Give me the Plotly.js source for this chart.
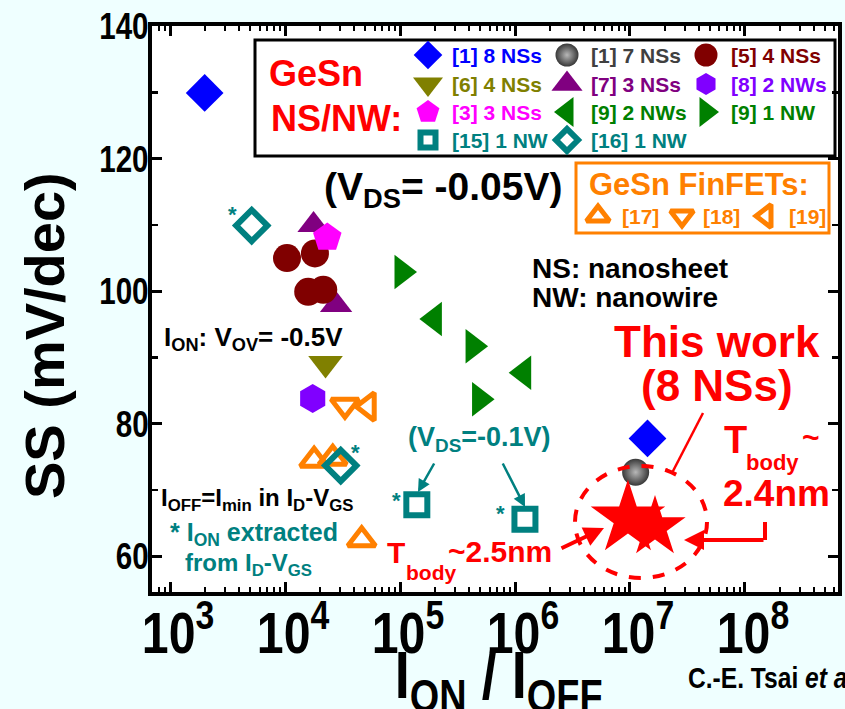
<!DOCTYPE html>
<html><head><meta charset="utf-8">
<script src="https://cdn.plot.ly/plotly-3.0.1.min.js"></script>
<style>html,body{margin:0;padding:0;background:#EFFFFF;overflow:hidden}</style>
</head><body><div id="chart" style="width:845px;height:709px"></div>
<script>
// ---- data (I_ON/I_OFF, SS in mV/dec) ----
const ref1_8NS_x = [2.0e3, 1.42e7];          const ref1_8NS_y = [129.9, 77.8];
const ref1_7NS_x = [1.12e7];                 const ref1_7NS_y = [72.7];
const ref5_x = [1.04e4, 1.82e4, 1.59e4, 2.15e4]; const ref5_y = [105.0, 105.7, 99.9, 100.2];
const ref6_x = [2.25e4];                     const ref6_y = [89.1];
const ref7_x = [1.77e4, 2.78e4];             const ref7_y = [110.0, 97.9];
const ref8_x = [1.74e4];                     const ref8_y = [83.8];
const ref3_x = [2.33e4];                     const ref3_y = [108.1];
const ref9_2NW_x = [1.99e5, 1.19e6];         const ref9_2NW_y = [95.8, 87.7];
const ref9_1NW_x = [1.04e5, 4.32e5, 4.92e5]; const ref9_1NW_y = [102.9, 91.7, 83.7];
const ref15_x = [1.40e5, 1.22e6];            const ref15_y = [67.8, 65.6];
const ref16_x = [5.13e3, 3.05e4];            const ref16_y = [109.9, 73.7];
const ref17_x = [1.79e4, 2.6e4, 4.64e4];     const ref17_y = [74.5, 74.8, 62.5];
const ref18_x = [3.32e4];                    const ref18_y = [82.8];
const ref19_x = [5.29e4];                    const ref19_y = [82.6];
const thisWork_x = [9.6e6, 1.65e7];          const thisWork_y = [65.7, 64.4];

const nsnwNames = ['[1] 8 NSs','[1] 7 NSs','[5] 4 NSs','[6] 4 NSs','[7] 3 NSs','[8] 2 NWs','[3] 3 NSs','[9] 2 NWs','[9] 1 NW','[15] 1 NW','[16] 1 NW'];
const finfetNames = ['[17]','[18]','[19]'];

// ---- styles ----
const SANS = '"Liberation Sans", Arial, sans-serif';
const RED = '#FF0000', TEAL = '#008080', ORANGE = '#FF8000', GREEN = '#008000';

const series = {
  '[1] 8 NSs': {x: ref1_8NS_x, y: ref1_8NS_y, symbol: 'diamond', color: '#0000FF', size: 29, lsize: 22},
  '[1] 7 NSs': {x: ref1_7NS_x, y: ref1_7NS_y, symbol: 'circle', color: '#383838', size: 27, lsize: 23, grad: '#b8b8b8', tcolor: '#404040'},
  '[5] 4 NSs': {x: ref5_x, y: ref5_y, symbol: 'circle', color: '#800000', size: 28, lsize: 23},
  '[6] 4 NSs': {x: ref6_x, y: ref6_y, symbol: 'triangle-down', color: '#808000', size: 30, lsize: 26},
  '[7] 3 NSs': {x: ref7_x, y: ref7_y, symbol: 'triangle-up', color: '#800080', size: 28, lsize: 27},
  '[8] 2 NWs': {x: ref8_x, y: ref8_y, symbol: 'hexagon', color: '#8000FF', size: 29, lsize: 22},
  '[3] 3 NSs': {x: ref3_x, y: ref3_y, symbol: 'pentagon', color: '#FF00FF', size: 30, lsize: 24},
  '[9] 2 NWs': {x: ref9_2NW_x, y: ref9_2NW_y, symbol: 'triangle-left', color: GREEN, size: 30, lsize: 26},
  '[9] 1 NW':  {x: ref9_1NW_x, y: ref9_1NW_y, symbol: 'triangle-right', color: GREEN, size: 30, lsize: 26},
  '[15] 1 NW': {x: ref15_x, y: ref15_y, symbol: 'square-open', color: TEAL, size: 21, lsize: 15, lw: 6},
  '[16] 1 NW': {x: ref16_x, y: ref16_y, symbol: 'diamond-open', color: TEAL, size: 24, lsize: 17, lw: 6},
  '[17]': {x: ref17_x, y: ref17_y, symbol: 'triangle-up-open', color: ORANGE, size: 24, lsize: 20, lw: 5},
  '[18]': {x: ref18_x, y: ref18_y, symbol: 'triangle-down-open', color: ORANGE, size: 24, lsize: 20, lw: 5},
  '[19]': {x: ref19_x, y: ref19_y, symbol: 'triangle-left-open', color: ORANGE, size: 24, lsize: 20, lw: 5},
  'This work': {x: thisWork_x, y: thisWork_y, symbol: 'star', color: RED, size: [56, 46]}
};
const drawOrder = ['[1] 8 NSs','[1] 7 NSs','[7] 3 NSs','[5] 4 NSs','[3] 3 NSs','[6] 4 NSs','[8] 2 NWs',
  '[9] 2 NWs','[9] 1 NW','[15] 1 NW','[17]','[18]','[19]','[16] 1 NW','This work'];

function markerOf(s, size) {
  const m = {symbol: s.symbol, color: s.color, size: size, opacity: 1, line: {width: s.lw || 0, color: s.color}};
  if (s.grad) m.gradient = {type: 'radial', color: s.grad};
  return m;
}

const traces = drawOrder.map(n => {
  const s = series[n];
  return {type: 'scatter', mode: 'markers', name: n, x: s.x, y: s.y, xaxis: 'x', yaxis: 'y', opacity: 1,
    cliponaxis: false, showlegend: false, hoverinfo: 'x+y+name', marker: markerOf(s, s.size)};
});

// ---- hand-made legends (overlay axes in pixel units of the frame) ----
const legColX = [428, 567, 706], legTextX = [450, 589, 729], legRowY = [55, 84, 112, 140];
const annotations = [];
const squeezeList = [];
function txt(text, x, y, size, color, o) {
  o = o || {};
  const paper = o.paper;
  annotations.push({text: text,
    x: paper ? (x - 152) / 686 : x, y: paper ? (592 - y) / 566 : y,
    xref: paper ? 'paper' : 'x2', yref: paper ? 'paper' : 'y2', showarrow: false,
    xanchor: o.xanchor || 'left', yanchor: 'middle', textangle: o.angle || 0,
    font: {family: SANS, size: size, color: color, weight: 'bold', style: 'normal'}});
  if (o.squeeze) squeezeList.push({i: annotations.length - 1, mode: o.squeeze});
}
nsnwNames.forEach((n, i) => {
  const s = series[n], c = i % 3, r = Math.floor(i / 3);
  traces.push({type: 'scatter', mode: 'markers', x: [legColX[c]], y: [legRowY[r]], xaxis: 'x2', yaxis: 'y2',
    showlegend: false, hoverinfo: 'skip', cliponaxis: false, marker: markerOf(s, s.lsize)});
  txt(n, legTextX[c], legRowY[r], 21, s.tcolor || s.color);
});
const finColX = [598, 682, 766], finTextX = [620, 701, 787], finRowY = 216;
finfetNames.forEach((n, i) => {
  const s = series[n];
  traces.push({type: 'scatter', mode: 'markers', x: [finColX[i]], y: [finRowY], xaxis: 'x2', yaxis: 'y2',
    showlegend: false, hoverinfo: 'skip', cliponaxis: false, marker: markerOf(s, s.lsize)});
  txt(n, finTextX[i], finRowY, 21, ORANGE);
});

// ---- text ----
txt('GeSn', 316, 73, 36, RED, {xanchor: 'center'});
txt('NS/NW:', 336, 118, 36, RED, {xanchor: 'center'});
txt('GeSn FinFETs:', 587, 184, 31, ORANGE);
txt('(V<sub>DS</sub>= -0.05V)', 443, 189, 39, '#000', {xanchor: 'center'});
txt('NS: nanosheet', 530, 268, 28, '#000');
txt('NW: nanowire', 530, 297, 28, '#000');
txt('I<sub>ON</sub>: V<sub>OV</sub>= -0.5V', 162, 338, 26, '#000');
txt('I<sub>OFF</sub>=I<sub>min</sub> in I<sub>D</sub>-V<sub>GS</sub>', 159, 499, 24, '#000');
txt('* I<sub>ON</sub> extracted', 168, 534, 25, TEAL);
txt('from I<sub>D</sub>-V<sub>GS</sub>', 183, 564, 24, TEAL);
txt('(V<sub>DS</sub>=-0.1V)', 479, 439, 27, TEAL, {xanchor: 'center'});
txt('*', 232, 214, 22, TEAL, {xanchor: 'center'});
txt('*', 355, 452, 22, TEAL, {xanchor: 'center'});
txt('*', 396, 500, 22, TEAL, {xanchor: 'center'});
txt('*', 500, 513, 22, TEAL, {xanchor: 'center'});
txt('This work', 717, 341, 44, RED, {xanchor: 'center'});
txt('(8 NSs)', 717, 385, 44, RED, {xanchor: 'center'});
txt('T', 722, 440, 38, RED);
txt('body', 744, 462, 22, RED);
txt('~', 800, 437, 30, RED);
txt('2.4nm', 721, 493, 37, RED);
txt('T', 385, 552, 30, RED);
txt('body', 404, 572, 21, RED);
txt('~2.5nm', 446, 551, 30, RED);
txt('C.-E. Tsai <i>et al.</i>', 686, 677, 30, '#000', {paper: true, squeeze: 'left'});
txt('SS (mV/dec)', 44, 335, 56, '#000', {xanchor: 'center', angle: -90, paper: true});
txt('I<sub>ON</sub> / I<sub>OFF</sub>', 498, 680, 66, '#000', {xanchor: 'center', paper: true, squeeze: 'middle'});

function arrow(x0, y0, x1, y1, color, w) {
  annotations.push({text: '', x: x1, y: y1, ax: x0, ay: y0, xref: 'x2', yref: 'y2', axref: 'x2', ayref: 'y2',
    showarrow: true, arrowhead: 2, arrowsize: 1, arrowwidth: w, arrowcolor: color});
}
arrow(435, 462, 418, 492, TEAL, 2.5);
arrow(502, 462, 525, 507, TEAL, 2.5);
arrow(560, 549, 604, 528, RED, 4);
arrow(765, 540, 684, 540, RED, 4);

const shapes = [
  {type: 'rect', xref: 'x2', yref: 'y2', x0: 255, x1: 835, y0: 40, y1: 156, line: {color: '#000', width: 3}, fillcolor: '#fff', layer: 'below'},
  {type: 'rect', xref: 'x2', yref: 'y2', x0: 576, x1: 829, y0: 163, y1: 233, line: {color: ORANGE, width: 3}, fillcolor: '#fff', layer: 'below'},
  {type: 'circle', xref: 'x2', yref: 'y2', x0: 575, x1: 707, y0: 466, y1: 578, line: {color: RED, width: 4, dash: 'dash'}, fillcolor: 'rgba(0,0,0,0)', opacity: 1, layer: 'above'},
  {type: 'line', xref: 'x2', yref: 'y2', x0: 765, x1: 765, y0: 522, y1: 540, line: {color: RED, width: 4}},
  {type: 'line', xref: 'x2', yref: 'y2', x0: 703, x1: 672, y0: 413, y1: 473, line: {color: RED, width: 2.5}},
  {type: 'line', xref: 'x2', yref: 'y2', x0: 666, x1: 672, y0: 469, y1: 473, line: {color: RED, width: 2.5}}
];

const layout = {
  width: 845, height: 709,
  margin: {l: 152, r: 7, t: 26, b: 117},
  paper_bgcolor: '#EFFFFF', plot_bgcolor: '#FFFFFF',
  showlegend: false,
  xaxis: {
    type: 'log', range: [2.843, 8.809], dtick: 1, exponentformat: 'power',
    showline: true, linewidth: 4, linecolor: '#000', mirror: 'ticks', showgrid: false, zeroline: false,
    ticks: 'inside', ticklen: 10, tickwidth: 3, tickcolor: '#000',
    minor: {ticks: 'inside', ticklen: 5, tickwidth: 2, tickcolor: '#000', dtick: 'D1', showgrid: false},
    tickfont: {family: SANS, size: 46, color: '#000', weight: 'bold'},
    title: {text: ''}
  },
  yaxis: {
    range: [54.63, 140], dtick: 20, tick0: 0,
    showline: true, linewidth: 4, linecolor: '#000', mirror: 'ticks', showgrid: false, zeroline: false,
    ticks: 'inside', ticklen: 10, tickwidth: 3, tickcolor: '#000',
    minor: {ticks: 'inside', ticklen: 6, tickwidth: 2.5, tickcolor: '#000', dtick: 10, showgrid: false},
    tickfont: {family: SANS, size: 37, color: '#000', weight: 'bold'},
    title: {text: ''}
  },
  xaxis2: {overlaying: 'x', anchor: 'y2', range: [152, 838], visible: false, fixedrange: true},
  yaxis2: {overlaying: 'y', anchor: 'x2', range: [592, 26], visible: false, fixedrange: true},
  annotations: annotations,
  shapes: shapes
};

// horizontally condense a text element (emulates the narrow typeface of the original)
function squeeze(el, s, dx, dy, mode) {
  const bb = el.getBBox();
  const a = mode || el.getAttribute('text-anchor') || 'start';
  const cx = (a === 'middle') ? bb.x + bb.width / 2 : (a === 'end' ? bb.x + bb.width : bb.x);
  const t = el.getAttribute('transform') || '';
  el.setAttribute('transform', t + ' translate(' + (cx + (dx || 0)) + ',' + (dy || 0) + ') scale(' + s + ',1) translate(' + (-cx) + ',0)');
}

Plotly.newPlot('chart', traces, layout, {displayModeBar: false, staticPlot: true}).then(gd => {
  gd.querySelectorAll('.xtick text').forEach(el => squeeze(el, 0.84, 8, -10, 'middle'));
  gd.querySelectorAll('.ytick text').forEach(el => squeeze(el, 0.8, 8, 0, 'end'));
  squeezeList.forEach(q => {
    const el = gd.querySelector('.annotation[data-index="' + q.i + '"] text');
    if (el) squeeze(el, 0.82, 0, 0, q.mode === 'left' ? 'start' : 'middle');
  });
});
</script></body></html>
